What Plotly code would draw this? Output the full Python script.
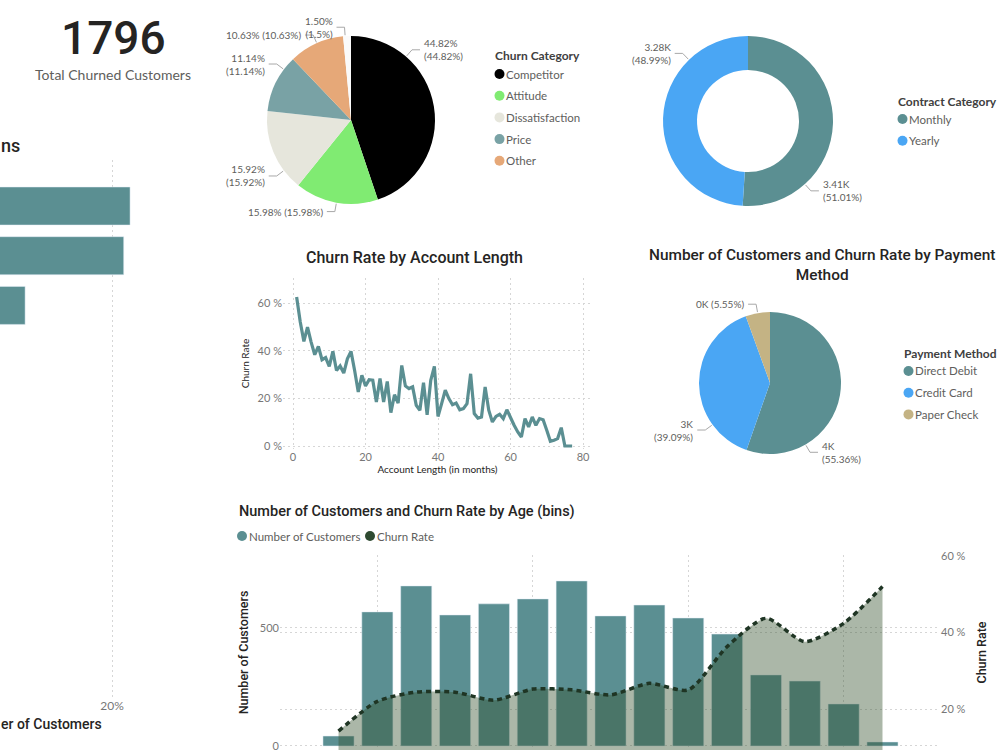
import math
import plotly.graph_objects as go

W, H = 1000, 750

# ---------------- data ----------------
total_churned = 1796

reason_names = ["Competitor had better devices", "Competitor made better offer", "Attitude of support person"]
reason_values = [21.7, 21.1, 11.8]

churn_cat_names = ["Competitor", "Attitude", "Dissatisfaction", "Price", "Other", "(Blank)"]
churn_cat_share = [44.82, 15.98, 15.92, 11.14, 10.63, 1.50]
churn_cat_text = ["44.82%<br>(44.82%)", "15.98% (15.98%)", "15.92%<br>(15.92%)",
                  "11.14%<br>(11.14%)", "10.63% (10.63%)", "1.50%<br>(1.5%)"]

contract_names = ["Monthly", "Yearly"]
contract_customers = [3410, 3276]
contract_text = ["3.41K<br>(51.01%)", "3.28K<br>(48.99%)"]

payment_names = ["Direct Debit", "Credit Card", "Paper Check"]
payment_customers = [3704, 2615, 371]
payment_text = ["4K<br>(55.36%)", "3K<br>(39.09%)", "0K (5.55%)"]

account_months = list(range(1, 78))
account_churn_rate = [62.5, 52.0, 43.9, 49.9, 43.6, 38.3, 41.8, 36.2, 37.1, 33.4,
                      39.7, 31.7, 33.6, 30.6, 36.6, 39.7, 31.7, 22.7, 29.7, 25.2,
                      27.8, 27.6, 18.5, 28.3, 18.5, 27.1, 14.0, 21.5, 18.0, 33.8,
                      25.2, 24.1, 24.8, 17.1, 15.0, 26.6, 13.1, 27.6, 33.4, 12.4,
                      17.8, 23.4, 19.9, 17.3, 18.0, 15.2, 15.7, 17.8, 30.3, 13.6,
                      11.7, 12.2, 24.8, 15.0, 10.1, 12.4, 13.3, 11.5, 15.2, 11.7,
                      8.7, 5.9, 3.8, 11.5, 8.0, 12.2, 8.7, 11.5, 11.0, 6.6,
                      2.0, 2.4, 3.1, 7.7, 0.0, 0.0, 0.0]

age_bins = [15, 20, 25, 30, 35, 40, 45, 50, 55, 60, 65, 70, 75, 80, 85]
age_customers = [42, 568, 678, 555, 602, 623, 699, 551, 597, 542, 474, 301, 275, 178, 17]
age_churn_rate = [14.2, 22.0, 24.4, 24.4, 22.3, 25.2, 25.0, 23.7, 26.7, 25.0, 36.3, 43.7, 37.6, 42.4, 52.0]

# ---------------- style ----------------
TEAL = "#5B8F92"
BLUE = "#4AA6F4"
TAN = "#C4B384"
DARKG = "#1F3524"
GRID = "#D6D6D6"
TXT = "#605E5C"
DARK = "#252423"
BODY = "Lato"
HEAD = "Roboto"
churn_cat_colors = ["#000000", "#80EB72", "#E6E6DC", "#79A2A5", "#E6A878", "#FAFAFA"]
contract_colors = [TEAL, BLUE]
payment_colors = [TEAL, BLUE, TAN]


def fx(x):
    return x / W


def fy(y):
    return 1 - y / H


fig = go.Figure()

# left bar chart (cut off)
fig.add_trace(go.Bar(x=reason_values, y=reason_names, orientation="h", marker_color=TEAL,
                     width=0.765, xaxis="x", yaxis="y", hoverinfo="skip", showlegend=False))

# pies
pies = [
    dict(vals=churn_cat_share, names=churn_cat_names, colors=churn_cat_colors, cx=351, cy=120, r=84, hole=0),
    dict(vals=contract_customers, names=contract_names, colors=contract_colors, cx=748, cy=121, r=85, hole=0.6),
    dict(vals=payment_customers, names=payment_names, colors=payment_colors, cx=770, cy=383, r=71, hole=0),
]
for p in pies:
    fig.add_trace(go.Pie(values=p["vals"], labels=p["names"], sort=False, direction="clockwise",
                         rotation=0, hole=p["hole"], textinfo="none", showlegend=False,
                         marker=dict(colors=p["colors"], line=dict(width=0)),
                         domain=dict(x=[fx(p["cx"] - p["r"]), fx(p["cx"] + p["r"])],
                                     y=[fy(p["cy"] + p["r"]), fy(p["cy"] - p["r"])])))

# line chart
fig.add_trace(go.Scatter(x=account_months, y=account_churn_rate, mode="lines",
                         line=dict(color=TEAL, width=3.2), xaxis="x2", yaxis="y2",
                         showlegend=False, hoverinfo="skip"))

# bottom combo chart
fig.add_trace(go.Bar(x=age_bins, y=age_customers, marker_color=TEAL, width=4,
                     xaxis="x3", yaxis="y3", showlegend=False, hoverinfo="skip"))
fig.add_trace(go.Scatter(x=age_bins, y=age_churn_rate, mode="lines",
                         line=dict(color=DARKG, width=3.5, dash="5px,4px", shape="spline", smoothing=0.7),
                         fill="tozeroy", fillcolor="rgba(50,79,43,0.41)",
                         xaxis="x3", yaxis="y4", showlegend=False, hoverinfo="skip"))

annotations = []
shapes = []


def text(x, y, s, size, color=TXT, family=BODY, xanchor="left", weight=None):
    f = dict(family=family, size=size, color=color)
    if weight:
        f["weight"] = weight
    annotations.append(dict(x=fx(x), y=fy(y), xref="paper", yref="paper", text=s, showarrow=False,
                            xanchor=xanchor, yanchor="middle", font=f, align=xanchor))


# pie labels with leader lines (angles clockwise from 12 o'clock)
label_angles = [
    [41, 190, 233, 307, 336, 356],
    [138, 316],
    [150, 234, 350],
]
label_texts = [churn_cat_text, contract_text, payment_text]
for p, angs, txts in zip(pies, label_angles, label_texts):
    for a, t in zip(angs, txts):
        th = math.radians(a)
        s = 1 if math.sin(th) >= 0 else -1
        x0 = p["cx"] + (p["r"] + 1) * math.sin(th)
        y0 = p["cy"] - (p["r"] + 1) * math.cos(th)
        x1 = p["cx"] + (p["r"] + 9) * math.sin(th)
        y1 = p["cy"] - (p["r"] + 9) * math.cos(th)
        x2 = x1 + 8 * s
        shapes.append(dict(type="path", xref="paper", yref="paper",
                           path=f"M {fx(x0)} {fy(y0)} L {fx(x1)} {fy(y1)} L {fx(x2)} {fy(y1)}",
                           line=dict(color="#A8A8A8", width=1)))
        text(x2 + 2 * s, y1, t, 10, xanchor="left" if s > 0 else "right")


# manual legends
def legend(x, ytitle, title, names, colors, dy=21.7):
    text(x - 1, ytitle, title, 12, color="#404040", weight="bold")
    for i, (n, c) in enumerate(zip(names, colors)):
        y = ytitle + 18 + i * dy
        shapes.append(dict(type="circle", xref="paper", yref="paper",
                           x0=fx(x + 0.5), x1=fx(x + 10.5), y0=fy(y + 5), y1=fy(y - 5),
                           fillcolor=c, line=dict(width=0)))
        text(x + 10, y, n, 11.5)


legend(494, 56, "Churn Category", churn_cat_names[:5], churn_cat_colors[:5])
legend(897, 101, "Contract Category", contract_names, contract_colors)
legend(903, 353, "Payment Method", payment_names, payment_colors)

# bottom legend (horizontal)
for x, n, c in [(237, "Number of Customers", TEAL), (365, "Churn Rate", "#2E4A31")]:
    shapes.append(dict(type="circle", xref="paper", yref="paper",
                       x0=fx(x), x1=fx(x + 10), y0=fy(541), y1=fy(531),
                       fillcolor=c, line=dict(width=0)))
    text(x + 10, 536, n, 11.5)

# titles and KPI
text(113, 38, f"{total_churned}", 46, color=DARK, family=HEAD, xanchor="center", weight=500)
text(113, 75, "Total Churned Customers", 14, color=TXT, xanchor="center")
text(-1, 145, "ns", 18, color=DARK, family=HEAD, weight=500)
text(-1, 724, "er of Customers", 14, color=DARK, family=HEAD, weight=500)
text(414, 257, "Churn Rate by Account Length", 16, color=DARK, family=HEAD, xanchor="center", weight=500)
text(822, 265, "Number of Customers and Churn Rate by Payment<br>Method", 15.4, color=DARK,
     family=HEAD, xanchor="center", weight=500)
text(237, 511, "Number of Customers and Churn Rate by Age (bins)", 14.5, color=DARK, family=HEAD, weight=500)

axfont = dict(family=BODY, size=11, color="#777777")
grid = dict(showgrid=True, gridcolor=GRID, griddash="2px,3px", gridwidth=1, zeroline=False, showline=False,
            ticks="", ticklabeloverflow="allow")

fig.update_layout(
    width=W, height=H, margin=dict(l=0, r=0, t=0, b=0, autoexpand=False),
    paper_bgcolor="white", plot_bgcolor="white", showlegend=False, bargap=0.2,
    xaxis=dict(domain=[0, 0.15], range=[9.43, 23.58], tick0=0, dtick=20, ticksuffix="%",
               tickfont=dict(family=BODY, size=12, color="#777777"), anchor="y", **grid),
    yaxis=dict(domain=[fy(697), fy(160)], type="category", range=[9.88, -0.926], showticklabels=False,
               showgrid=False, zeroline=False, anchor="x"),
    xaxis2=dict(domain=[fx(283), fx(592)], range=[-2.76, 82.48], dtick=20, tickfont=axfont, anchor="y2",
                title=dict(text="Account Length (in months)", font=dict(family=BODY, size=10, color=DARK), standoff=2),
                **grid),
    yaxis2=dict(domain=[fy(449), fy(278)], range=[-1.26, 70.5], dtick=20, ticksuffix=" %", tickfont=axfont,
                anchor="x2",
                title=dict(text="Churn Rate", font=dict(family=BODY, size=10, color=DARK), standoff=6),
                **grid),
    xaxis3=dict(domain=[0.28, 0.94], range=[7.47, 92.4], tick0=0, dtick=20, showticklabels=False,
                anchor="y3", **grid),
    yaxis3=dict(domain=[0, fy(555)], range=[-17, 809], dtick=500, tickfont=axfont, anchor="x3",
                title=dict(text="Number of Customers", font=dict(family=HEAD, size=12.5, color=DARK, weight=500),
                           standoff=8),
                **grid),
    yaxis4=dict(overlaying="y3", side="right", anchor="x3", range=[9.28, 60.26], dtick=20, ticksuffix=" %",
                tickfont=axfont,
                title=dict(text="Churn Rate", font=dict(family=HEAD, size=12.5, color=DARK, weight=500),
                           standoff=12),
                **grid),
    annotations=annotations,
    shapes=shapes,
)

fig.write_html("out.html")
